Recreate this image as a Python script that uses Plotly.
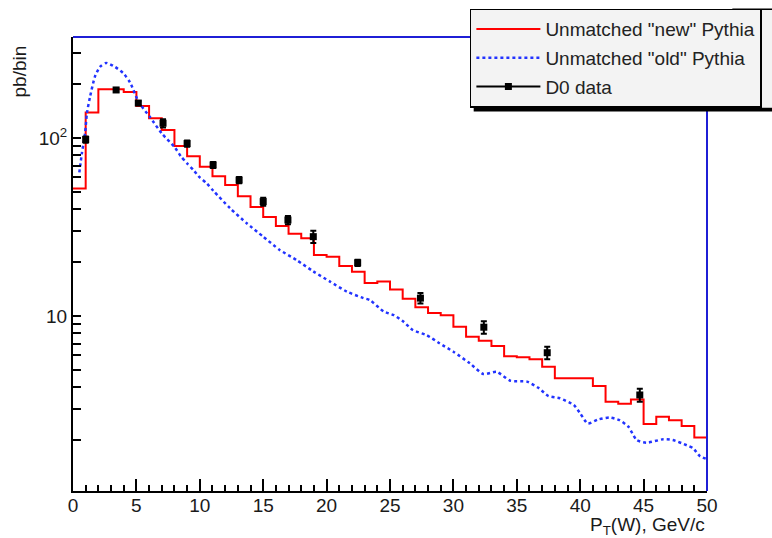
import plotly.graph_objects as go

# ---- data ----
bin_edges = list(range(0, 51))
new_pythia = [52, 139, 188, 188, 181, 151, 129, 111, 90, 79,
              69, 61, 54.5, 47, 41, 36, 32, 29, 27.3, 22,
              21.5, 19.1, 17.7, 15.3, 15.6, 14.1, 12.5, 11.2, 10.4, 10.1,
              8.7, 7.65, 7.27, 6.78, 5.95, 5.86, 5.71, 5.19, 4.47, 4.47,
              4.47, 4.04, 3.30, 3.21, 3.40, 2.47, 2.72, 2.60, 2.41, 2.08]

old_x = [0.5, 0.7, 0.95, 1.1, 1.35, 1.73, 2.13, 2.6, 3.3, 3.97, 4.5, 5.2, 6.07, 7.0,
         8.0, 8.5, 9.0, 9.5, 10.0, 10.5, 11.07, 12.38, 13.7, 15.0, 16.3, 17.64, 18.95,
         20.27, 21.6, 22.9, 23.4, 24.5, 25.3, 26.05, 26.8, 27.9, 28.9, 30.0, 31.3,
         32.36, 33.4, 34.5, 35.8, 36.7, 37.5, 38.4, 39.5, 40.0, 40.6, 41.4, 42.35,
         43.1, 43.8, 44.45, 45.2, 46.55, 47.3, 48.4, 48.9, 49.45, 49.9]
old_y = [64, 82, 106, 138, 171, 221, 251, 264, 251, 231, 205, 158, 131, 106,
         89, 79, 72, 66, 60, 56, 50.5, 40.3, 33.2, 27.9, 23.5, 20.6, 17.8,
         15.6, 13.7, 12.6, 12.3, 10.6, 10.1, 9.3, 8.34, 7.8, 7.03, 6.3, 5.42,
         4.72, 4.86, 4.33, 4.28, 3.95, 3.55, 3.45, 3.16, 2.84, 2.49, 2.62, 2.69,
         2.6, 2.39, 2.01, 1.94, 2.03, 2.01, 1.88, 1.81, 1.63, 1.58]

d0_x = [1.0, 3.4, 5.15, 7.1, 9.0, 11.05, 13.1, 15.0, 16.95, 18.95, 22.45, 27.4, 32.4, 37.4, 44.7]
d0_y = [98, 186, 157, 121, 93, 70.5, 58, 43.9, 34.6, 27.9, 19.9, 12.6, 8.65, 6.22, 3.6]
d0_err = [3.9, 5, 4, 6.4, 3.7, 2.8, 2.3, 2.3, 1.8, 2.2, 0.8, 0.85, 0.7, 0.5, 0.3]

y_tick_vals = [1, 2, 3, 4, 5, 6, 7, 8, 9, 10, 20, 30, 40, 50, 60, 70, 80, 90, 100, 200, 300]
y_tick_text = ["", "", "", "", "", "", "", "", "", "10", "", "", "", "", "", "", "", "", "10<sup>2</sup>", "", ""]

FONT = "Liberation Sans, Arial, Helvetica, sans-serif"
LEG_BG = "#f3f3f3"
LEG_TOP = 1.0625
LEG_BOT = 0.8447

fig = go.Figure()

fig.add_trace(go.Scatter(
    x=bin_edges, y=new_pythia + [new_pythia[-1]],
    mode="lines", line=dict(color="#ff0000", width=2, shape="hv"),
    name='Unmatched "new" Pythia', legendgroup="a"))

fig.add_trace(go.Scatter(
    x=old_x, y=old_y, mode="lines",
    line=dict(color="#2233ff", width=2.5, dash="3px,3px", shape="spline", smoothing=0.6),
    name='Unmatched "old" Pythia', legendgroup="b"))

fig.add_trace(go.Scatter(
    x=d0_x, y=d0_y, mode="markers",
    marker=dict(symbol="square", size=7, color="black"),
    error_y=dict(type="data", array=d0_err, color="black", thickness=2, width=3),
    showlegend=False, legendgroup="c"))

fig.add_trace(go.Scatter(
    x=[None], y=[None], mode="lines+markers",
    line=dict(color="black", width=2),
    marker=dict(symbol="square", size=7, color="black"),
    name="D0 data", legendgroup="c"))

fig.update_layout(
    width=772, height=538,
    margin=dict(l=73, r=65, t=37, b=47, autoexpand=False),
    paper_bgcolor="white", plot_bgcolor="white",
    font=dict(family=FONT, size=19, color="#1a1a1a"),
    showlegend=True,
    legend=dict(x=0.626, xanchor="left", y=LEG_TOP, yanchor="top",
                bgcolor=LEG_BG, bordercolor="black", borderwidth=1.5,
                font=dict(family=FONT, size=19, color="#222222"),
                itemwidth=64, tracegroupgap=1),
    xaxis=dict(range=[0, 50], showline=True, linecolor="black", linewidth=2,
               ticks="inside", ticklen=12, tickwidth=1.5, tickcolor="black",
               tick0=0, dtick=5, showgrid=False, zeroline=False,
               ticklabelstandoff=-4,
               minor=dict(ticks="inside", dtick=1, ticklen=6, tickwidth=1.5, tickcolor="black"),
               tickfont=dict(size=19, color="#1a1a1a")),
    yaxis=dict(type="log", range=[0.017, 2.567], showline=True, linecolor="black", linewidth=2,
               ticks="inside", ticklen=8, tickwidth=1.5, tickcolor="black",
               tickmode="array", tickvals=y_tick_vals, ticktext=y_tick_text,
               showgrid=False, zeroline=False, tickfont=dict(size=19, color="#1a1a1a")),
    shapes=[
        dict(type="line", xref="paper", yref="paper", x0=0, x1=1, y0=1, y1=1,
             line=dict(color="#1f1fd6", width=2)),
        dict(type="line", xref="paper", yref="paper", x0=1, x1=1, y0=0, y1=1,
             line=dict(color="#1f1fd6", width=2)),
        # legend shadow (bottom) and extension of the legend box to the page edge
        dict(type="rect", xref="paper", yref="paper", x0=0.632, x1=1.2, y0=LEG_BOT - 0.009, y1=LEG_BOT,
             fillcolor="black", line=dict(width=0), layer="above"),
        dict(type="rect", xref="paper", yref="paper", x0=1.04, x1=1.2, y0=LEG_BOT, y1=LEG_TOP,
             fillcolor=LEG_BG, line=dict(width=0), layer="above"),
        dict(type="line", xref="paper", yref="paper", x0=1.04, x1=1.2, y0=LEG_TOP - 0.0016, y1=LEG_TOP - 0.0016,
             line=dict(color="black", width=1.5), layer="above"),
    ],
    annotations=[
        dict(text="pb/bin", xref="paper", yref="paper", x=-0.0836, y=0.924,
             xanchor="center", yanchor="middle", textangle=-90, showarrow=False,
             font=dict(size=19, color="#1a1a1a")),
        dict(text="P<sub>T</sub>(W), GeV/c", xref="paper", yref="paper", x=1.0, y=-0.078,
             xanchor="right", yanchor="middle", showarrow=False,
             font=dict(size=19, color="#1a1a1a")),
    ],
)

fig.write_html("out.html")
